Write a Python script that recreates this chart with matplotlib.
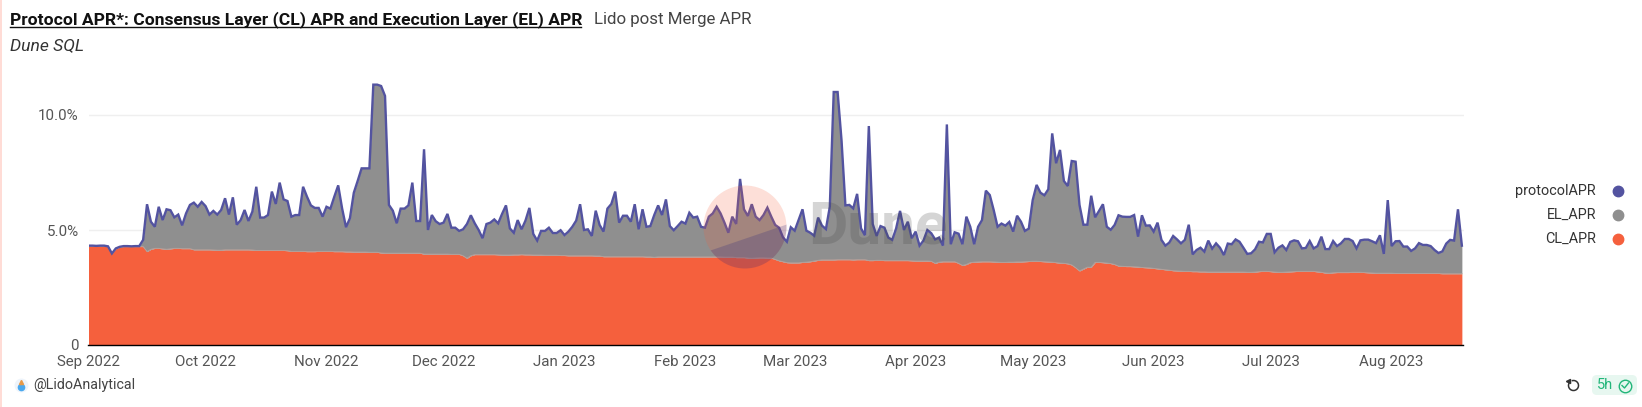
import numpy as np
import pandas as pd
import matplotlib
matplotlib.use('Agg')
import matplotlib.pyplot as plt
from matplotlib.lines import Line2D
from matplotlib.patches import Circle, Polygon, Rectangle, FancyBboxPatch, Arc
from matplotlib.transforms import IdentityTransform

W, H = 1642, 407

protocol_apr = [
    4.32,4.32,4.31,4.32,4.32,4.29,3.98,4.20,4.27,4.30,4.30,4.29,4.30,4.30,4.57,6.12,5.36,5.14,6.01,5.43,
    5.90,5.86,5.55,5.67,5.20,5.72,6.09,6.19,6.01,6.22,6.04,5.67,5.83,5.67,5.87,6.38,5.67,6.42,5.23,5.43,
    5.87,5.39,5.80,6.88,5.54,5.54,5.65,6.67,6.13,7.06,6.33,6.26,5.58,5.65,5.65,6.88,6.45,6.07,5.96,5.96,
    5.58,6.01,5.93,6.45,6.94,5.94,5.12,5.51,6.62,7.14,7.68,7.68,7.68,11.32,11.32,11.26,10.83,6.09,5.84,5.29,
    5.93,5.93,6.07,7.06,5.39,5.39,8.51,5.00,5.65,5.38,5.26,5.32,5.70,5.10,5.10,4.96,5.03,5.26,5.64,5.29,
    5.00,4.64,5.26,5.32,5.46,5.29,5.70,6.07,5.07,4.88,5.43,5.03,5.41,5.96,4.83,4.54,4.96,4.96,5.10,4.87,
    4.87,4.99,4.78,4.93,5.14,5.41,6.12,5.00,5.03,4.74,5.84,5.22,4.93,5.93,6.13,6.67,5.32,5.62,5.62,5.36,
    6.12,5.03,5.90,5.14,5.17,5.65,6.07,5.65,6.33,5.17,4.99,5.17,5.36,5.28,5.75,5.54,5.58,5.14,5.10,5.58,
    5.72,6.01,5.72,5.32,4.88,5.58,5.26,7.22,5.90,5.61,6.12,5.58,5.43,5.65,5.97,5.58,5.22,5.10,4.68,4.49,
    5.12,4.97,5.43,5.90,4.97,4.88,4.75,5.54,5.19,5.04,6.01,11.00,11.00,8.91,6.07,6.09,5.94,6.57,5.07,4.77,
    9.52,5.26,4.74,5.17,5.10,4.67,4.57,5.07,5.83,5.00,5.36,4.64,4.93,4.32,4.54,5.00,4.86,4.59,4.67,4.32,
    9.59,4.38,4.90,4.84,4.38,5.58,5.14,4.38,5.14,5.43,6.71,6.52,5.87,5.14,5.28,5.19,5.35,4.93,5.62,5.36,
    4.96,5.06,6.30,6.96,6.62,6.51,6.77,9.20,7.90,8.48,7.13,6.91,8.00,7.97,6.09,5.23,5.23,6.49,5.55,5.83,
    6.12,5.14,5.01,5.22,5.64,5.58,5.57,5.57,5.65,4.71,5.64,5.19,5.20,4.93,5.32,4.57,4.32,4.45,4.74,4.59,
    4.42,4.57,5.23,3.94,4.13,4.23,4.06,4.54,4.19,4.42,4.23,3.91,4.41,4.38,4.59,4.49,4.23,3.96,3.99,4.16,
    4.49,4.46,4.83,4.83,4.03,4.23,4.33,4.13,4.48,4.55,4.51,4.20,4.22,4.52,4.20,4.30,4.71,4.17,4.17,4.52,
    4.30,4.42,4.61,4.61,4.52,4.20,4.55,4.58,4.58,4.51,4.43,4.77,3.96,6.30,4.30,4.51,4.52,4.28,4.28,4.09,
    4.20,4.43,4.35,4.35,4.30,4.13,4.00,4.07,4.41,4.57,4.54,5.90,4.32,
]

cl_apr = [
    4.30,4.30,4.30,4.30,4.30,4.27,3.97,4.18,4.26,4.28,4.28,4.28,4.28,4.28,4.28,4.06,4.16,4.20,4.20,4.18,
    4.16,4.18,4.20,4.20,4.19,4.19,4.19,4.14,4.14,4.14,4.14,4.14,4.13,4.12,4.12,4.14,4.14,4.14,4.14,4.14,
    4.14,4.14,4.13,4.11,4.11,4.11,4.11,4.11,4.11,4.11,4.11,4.10,4.07,4.07,4.07,4.07,4.06,4.06,4.06,4.07,
    4.07,4.07,4.07,4.06,4.06,4.06,4.05,4.05,4.04,4.04,4.04,4.04,4.03,4.03,4.03,4.00,3.99,3.99,3.99,3.99,
    3.99,3.99,3.99,3.99,3.99,3.99,3.95,3.95,3.95,3.95,3.95,3.95,3.95,3.94,3.94,3.94,3.88,3.77,3.88,3.93,
    3.93,3.93,3.93,3.93,3.93,3.92,3.91,3.91,3.91,3.92,3.92,3.93,3.92,3.92,3.91,3.91,3.91,3.90,3.90,3.90,
    3.90,3.89,3.89,3.88,3.88,3.88,3.88,3.88,3.88,3.88,3.87,3.87,3.84,3.84,3.84,3.84,3.84,3.84,3.84,3.84,
    3.84,3.84,3.84,3.83,3.83,3.81,3.83,3.83,3.83,3.83,3.83,3.83,3.83,3.83,3.83,3.83,3.83,3.83,3.83,3.83,
    3.83,3.83,3.83,3.82,3.82,3.82,3.80,3.80,3.80,3.78,3.77,3.78,3.79,3.79,3.78,3.78,3.72,3.66,3.62,3.58,
    3.57,3.57,3.57,3.59,3.60,3.62,3.65,3.68,3.70,3.70,3.70,3.70,3.71,3.71,3.71,3.71,3.70,3.71,3.71,3.71,
    3.67,3.67,3.68,3.68,3.67,3.67,3.67,3.67,3.67,3.67,3.67,3.66,3.65,3.65,3.65,3.65,3.64,3.55,3.60,3.62,
    3.62,3.62,3.62,3.55,3.46,3.50,3.58,3.60,3.61,3.62,3.62,3.62,3.61,3.60,3.59,3.59,3.60,3.60,3.61,3.61,
    3.62,3.63,3.64,3.64,3.63,3.62,3.61,3.60,3.58,3.56,3.55,3.53,3.48,3.36,3.22,3.30,3.38,3.38,3.59,3.59,
    3.58,3.56,3.54,3.50,3.43,3.42,3.41,3.41,3.40,3.39,3.37,3.36,3.35,3.33,3.31,3.29,3.27,3.25,3.23,3.22,
    3.21,3.20,3.20,3.19,3.19,3.18,3.18,3.17,3.17,3.17,3.17,3.17,3.17,3.17,3.17,3.17,3.17,3.16,3.16,3.17,
    3.19,3.20,3.20,3.19,3.17,3.16,3.16,3.17,3.18,3.19,3.20,3.20,3.20,3.20,3.20,3.18,3.16,3.13,3.12,3.14,
    3.15,3.15,3.15,3.15,3.16,3.16,3.16,3.15,3.14,3.13,3.12,3.12,3.12,3.12,3.12,3.11,3.11,3.11,3.11,3.11,
    3.11,3.11,3.11,3.11,3.11,3.11,3.11,3.10,3.10,3.10,3.10,3.10,3.10,
]

dates = pd.date_range('2022-09-01', periods=len(protocol_apr), freq='D')
month_starts = pd.date_range('2022-09-01', '2023-08-01', freq='MS')
month_labels = ['Sep 2022', 'Oct 2022', 'Nov 2022', 'Dec 2022', 'Jan 2023', 'Feb 2023',
                'Mar 2023', 'Apr 2023', 'May 2023', 'Jun 2023', 'Jul 2023', 'Aug 2023']
y_ticks = [0, 5, 10]
y_labels = ['0', '5.0%', '10.0%']
legend_names = ['protocolAPR', 'EL_APR', 'CL_APR']

BLUE = '#5353a0'
GREY = '#8f8f8f'
ORANGE = '#f5603d'
plt.rcParams['font.family'] = ['Roboto', 'DejaVu Sans']


def fx(px):
    return px / W


def fy(py):
    return 1 - py / H


fig = plt.figure(figsize=(W / 100, H / 100), dpi=100, facecolor='white')
ax = fig.add_axes([fx(88.5), fy(345), (1463.5 - 88.5) / W, 276 / H])

ax.fill_between(dates, 0, cl_apr, color=ORANGE, linewidth=0, zorder=2)
ax.fill_between(dates, cl_apr, protocol_apr, color=GREY, linewidth=0, zorder=2)
ax.plot(dates, cl_apr, color='#b5a09a', linewidth=0.7, zorder=3)
ax.plot(dates, protocol_apr, color=BLUE, linewidth=1.7, zorder=4, solid_joinstyle='miter')

ax.set_xlim(dates[0], dates[-1] + pd.Timedelta(hours=10))
ax.set_ylim(0, 12)
ax.set_yticks(y_ticks)
ax.set_yticklabels(y_labels)
ax.set_xticks(month_starts)
ax.set_xticklabels(month_labels)
ax.grid(axis='y', color='#efefef', linewidth=1, zorder=0)
ax.set_axisbelow(True)
for s in ['top', 'left', 'right']:
    ax.spines[s].set_visible(False)
ax.spines['bottom'].set_color('black')
ax.spines['bottom'].set_linewidth(1)
ax.tick_params(axis='both', length=0, labelsize=10.9, labelcolor='#555555')
ax.tick_params(axis='x', pad=7.5)
ax.tick_params(axis='y', pad=7)

# dune watermark, in pixels
wm = Circle((745, H - 227), 41.5, transform=IdentityTransform(), facecolor=ORANGE,
            alpha=0.2, edgecolor='none', zorder=6)
ax.add_patch(wm)
wm.set_clip_on(False)
low = Polygon([(690, H - 257.5), (800, H - 220), (800, H - 280), (690, H - 280)], closed=True,
              transform=IdentityTransform(), facecolor='#20207a', alpha=0.22, edgecolor='none', zorder=7)
ax.add_patch(low)
low.set_clip_path(Circle((745, H - 227), 41.5, transform=IdentityTransform()))
fig.text(fx(808), fy(227), 'Dune', fontsize=43.5, fontweight='bold', color='#444444', alpha=0.22,
         ha='left', va='center', zorder=8)

# header
fig.text(fx(9.5), fy(19.5), 'Protocol APR*: Consensus Layer (CL) APR and Execution Layer (EL) APR',
         fontsize=12.6, fontweight='bold', color='#111111', ha='left', va='center')
fig.add_artist(Line2D([fx(9.5), fx(581)], [fy(27), fy(27)], color='#111111', linewidth=1))
fig.text(fx(594), fy(19.5), 'Lido post Merge APR', fontsize=12.2, color='#444444', ha='left', va='center')
fig.text(fx(9.5), fy(46), 'Dune SQL', fontsize=12.6, style='italic', color='#333333', ha='left', va='center')

# legend
for name, col, py in zip(legend_names, [BLUE, GREY, ORANGE], [190.5, 215, 239]):
    fig.text(fx(1596), fy(py), name, fontsize=10.4, color='#333333', ha='right', va='center')
    fig.add_artist(Line2D([fx(1618)], [fy(py)], marker='o', markersize=7.5, color=col, linestyle='none'))

# footer
fig.add_artist(Line2D([fx(21)], [fy(385)], marker='o', markersize=9, color='#eef4fb', linestyle='none'))
fig.add_artist(Line2D([fx(21)], [fy(386.5)], marker='o', markersize=4.5, color='#4aa8ee', linestyle='none'))
fig.add_artist(Line2D([fx(21)], [fy(382)], marker='^', markersize=3, color='#e79a4a', linestyle='none'))
fig.text(fx(33), fy(385), '@LidoAnalytical', fontsize=10.3, color='#444444', ha='left', va='center')

fig.add_artist(Arc((1573.5, H - 385.5), 10, 10, theta1=-210, theta2=110, transform=IdentityTransform(),
                   color='#333333', linewidth=1.1))
fig.add_artist(Line2D([fx(1568)], [fy(381)], marker='<', markersize=3, color='#333333', linestyle='none'))
fig.add_artist(FancyBboxPatch((1594, H - 393), 41, 16, boxstyle='round,pad=2,rounding_size=5',
                              transform=IdentityTransform(), facecolor='#e7f7f0', edgecolor='none'))
fig.text(fx(1597), fy(385), '5h', fontsize=10.5, color='#22b67a', ha='left', va='center')
fig.add_artist(Line2D([fx(1625)], [fy(385.5)], marker='o', markersize=9, markerfacecolor='none',
                      markeredgecolor='#22b67a', markeredgewidth=1, linestyle='none'))
fig.add_artist(Line2D([fx(1622), fx(1624.5), fx(1628.5)], [fy(385.5), fy(388), fy(383)], color='#22b67a', linewidth=1))

# pale strip on the left border
fig.add_artist(Rectangle((0, 0), 1.5 / W, 1, transform=fig.transFigure, facecolor='#ffdcd6', edgecolor='none'))

fig.savefig('out.png', dpi=100)
